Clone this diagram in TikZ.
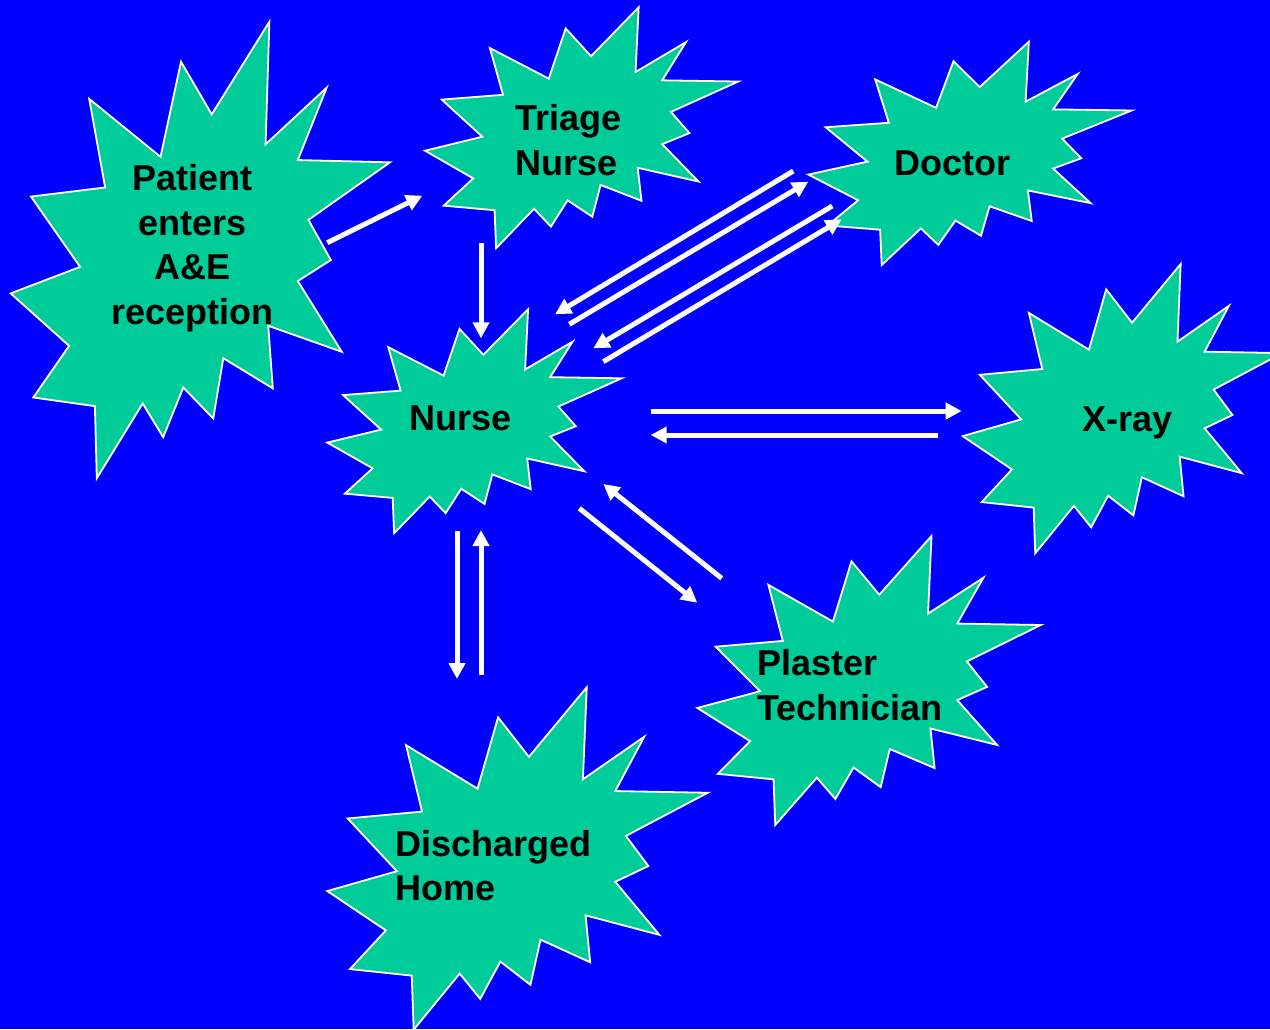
\documentclass[tikz,border=0pt]{standalone}
\usepackage{fontspec}
\setmainfont{Liberation Sans}
\usetikzlibrary{arrows.meta}

\definecolor{sky}{RGB}{0,0,255}
\definecolor{burstgreen}{RGB}{0,204,153}

\tikzset{
  burst/.style={fill=burstgreen, draw=white, line width=1.8pt, line join=miter},
  burstlabel/.style={inner sep=0pt, text=black,
    font=\bfseries\fontsize{36}{44.5}\selectfont},
  flow/.style={draw=white, line width=5pt,
    -{Triangle[length=16pt,width=16pt]}},
}

% explosion outline in a unit box, scaled to the box (#1,#2) + (#3 x #4)
\newcommand\burstbox[4]{%
  \path[burst, shift={(#1,#2)}, xscale=#3, yscale=#4]
    (0.682,0) -- (0.672,0.2685) -- (0.833,0.1445) -- (0.757,0.303)
    -- (1.0,0.308) -- (0.785,0.434) -- (0.844,0.522) -- (0.757,0.568)
    -- (0.873,0.723) -- (0.679,0.666) -- (0.691,0.803) -- (0.5605,0.737)
    -- (0.534,0.869) -- (0.455,0.801) -- (0.402,0.910) -- (0.348,0.836)
    -- (0.227,1.0) -- (0.222,0.842) -- (0.0596,0.823) -- (0.154,0.710)
    -- (0,0.595) -- (0.183,0.537) -- (0.0535,0.383) -- (0.249,0.363)
    -- (0.207,0.169) -- (0.395,0.296) -- (0.449,0.0876) -- (0.530,0.203)
    -- cycle;}

\begin{document}
\begin{tikzpicture}[x=1pt, y=-1pt]
  \useasboundingbox (0,0) rectangle (1270,1029);
  \clip (0,0) rectangle (1270,1029);
  \fill[sky] (0,0) rectangle (1270,1029);

  % explosions
  \burstbox{10.7}{21.7}{379.3}{456.6}   % patient
  \burstbox{425}{7.3}{313.3}{241}       % triage
  \burstbox{808.3}{41.7}{323.4}{223.3}  % doctor
  \burstbox{327.3}{309.3}{294.4}{224}   % nurse
  \burstbox{962.7}{264}{319.6}{289.3}   % x-ray
  \burstbox{697.3}{536}{343.4}{289}     % plaster
  \burstbox{327.3}{687.3}{380.4}{342.4} % discharged

  % labels (multi-line ones are placed by the baseline of their last line)
  \node[burstlabel, anchor=base, align=center] (patient) at (192.5,324)
    {Patient\\enters\\A\&E\\reception};
  \node[burstlabel, anchor=base west, align=left] (triage) at (515,175)
    {Triage\\Nurse};
  \node[burstlabel, anchor=base] (doctor) at (952.5,175) {Doctor};
  \node[burstlabel, anchor=base] (nurse) at (461,430.7) {Nurse};
  \node[burstlabel, anchor=base] (xray) at (1127.3,431.7) {X-ray};
  \node[burstlabel, anchor=base west, align=left] (plaster) at (757,720)
    {Plaster\\Technician};
  \node[burstlabel, anchor=base west, align=left] (home) at (395,900.7)
    {Discharged\\Home};

  % arrow end points
  \coordinate (pt-s) at (327.3,242.7);  \coordinate (pt-e) at (422.3,195.7);
  \coordinate (tn-s) at (481,243.3);    \coordinate (tn-e) at (481,338.3);
  \coordinate (dn1-s) at (793.3,171);   \coordinate (dn1-e) at (555,314.3);
  \coordinate (nd1-s) at (569.3,324.3); \coordinate (nd1-e) at (808.3,181.7);
  \coordinate (dn2-s) at (832.3,206);   \coordinate (dn2-e) at (593.3,348.3);
  \coordinate (nd2-s) at (603.3,361.7); \coordinate (nd2-e) at (841.7,219.3);
  \coordinate (nx-s) at (650.7,411);    \coordinate (nx-e) at (961.7,411);
  \coordinate (xn-s) at (938.3,435);    \coordinate (xn-e) at (650.7,435);
  \coordinate (np-s) at (579.3,508.3);  \coordinate (np-e) at (697.3,602.7);
  \coordinate (pn-s) at (721.7,578.3);  \coordinate (pn-e) at (603.3,484);
  \coordinate (nh-s) at (457,531);      \coordinate (nh-e) at (457,679);
  \coordinate (hn-s) at (481,675);      \coordinate (hn-e) at (481,530);

  % flows
  \draw[flow] (pt-s) -- (pt-e);
  \draw[flow] (tn-s) -- (tn-e);
  \draw[flow] (dn1-s) -- (dn1-e);
  \draw[flow] (nd1-s) -- (nd1-e);
  \draw[flow] (dn2-s) -- (dn2-e);
  \draw[flow] (nd2-s) -- (nd2-e);
  \draw[flow] (nx-s) -- (nx-e);
  \draw[flow] (xn-s) -- (xn-e);
  \draw[flow] (np-s) -- (np-e);
  \draw[flow] (pn-s) -- (pn-e);
  \draw[flow] (nh-s) -- (nh-e);
  \draw[flow] (hn-s) -- (hn-e);
\end{tikzpicture}
\end{document}
